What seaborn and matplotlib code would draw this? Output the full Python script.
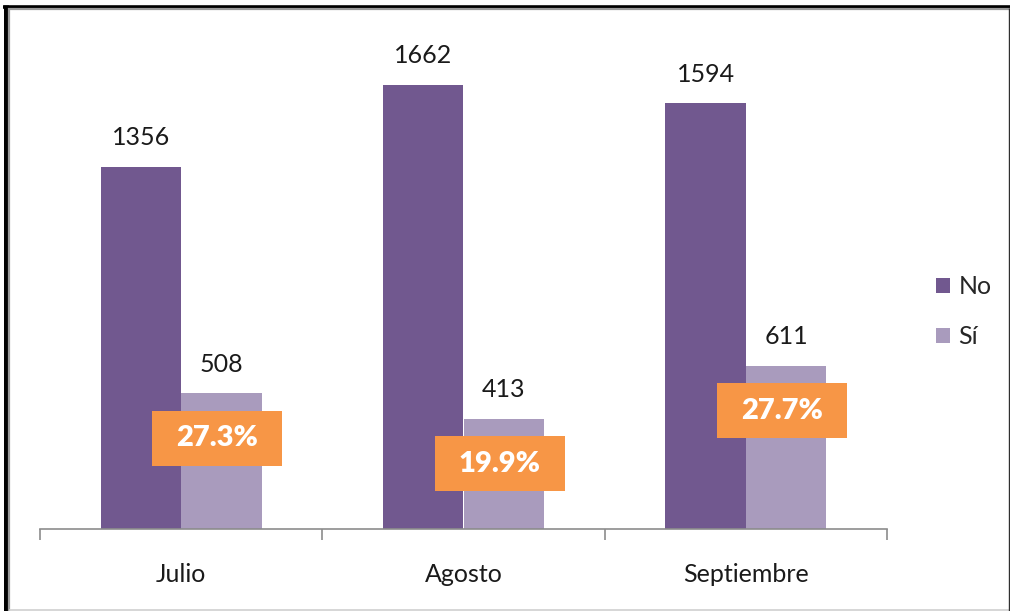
import matplotlib
matplotlib.use("Agg")
import matplotlib.pyplot as plt
import seaborn as sns
import pandas as pd
from matplotlib.patches import Rectangle
from matplotlib.lines import Line2D

meses = ["Julio", "Agosto", "Septiembre"]
respuestas = ["No", "Sí"]
valores_no = [1356, 1662, 1594]
valores_si = [508, 413, 611]
colores = ["#71588F", "#A99BBD"]
naranja = "#F79646"

df = pd.DataFrame({
    "mes": meses * 2,
    "resp": ["No"] * 3 + ["Sí"] * 3,
    "valor": valores_no + valores_si,
})

sns.set_style("white")
plt.rcParams["font.family"] = ["Lato", "DejaVu Sans"]

W, H = 1010, 611
fig = plt.figure(figsize=(W / 100, H / 100), dpi=100)
ax = fig.add_axes([40 / W, 1 - 529 / H, 847 / W, 509 / H])

sns.barplot(data=df, x="mes", y="valor", hue="resp", palette=colores,
            width=0.57, saturation=1, ax=ax, legend=False, errorbar=None,
            linewidth=0, edgecolor="none")

ax.set_xlim(-0.5, 2.5)
ymax = 1906
ax.set_ylim(0, ymax)
ax.set_xlabel("")
ax.set_ylabel("")
for s in ["top", "right", "left"]:
    ax.spines[s].set_visible(False)
ax.spines["bottom"].set_color("#8C8C8C")
ax.spines["bottom"].set_linewidth(1.2)
ax.set_yticks([])
ax.set_xticks([-0.5, 0.5, 1.5, 2.5])
ax.set_xticklabels([])
ax.tick_params(axis="x", which="major", bottom=True, length=8, width=1.2,
               color="#8C8C8C", direction="out")
ax.set_xticks([0, 1, 2], minor=True)
ax.set_xticklabels(meses, minor=True)
ax.tick_params(axis="x", which="minor", bottom=True, length=0, pad=24.5,
               labelsize=18, labelcolor="#1a1a1a")

# value labels
for cont in ax.containers:
    for bar in cont:
        h = bar.get_height()
        ax.annotate(f"{int(round(h))}", (bar.get_x() + bar.get_width() / 2, h),
                    xytext=(0, 21), textcoords="offset points", ha="center", va="center",
                    fontsize=18, color="#1a1a1a")

# percentage boxes
px_per_unit = (529 - 20) / ymax
box_w = 130 / 282
box_h = 55 / px_per_unit
for i, (n, s) in enumerate(zip(valores_no, valores_si)):
    pct = s / (n + s) * 100
    cx = i + 0.285 / 2 - 4 / 282
    cy = s - 45 / px_per_unit
    ax.add_patch(Rectangle((cx - box_w / 2, cy - box_h / 2), box_w, box_h,
                           facecolor=naranja, edgecolor="none", zorder=5, clip_on=False))
    ax.text(cx, cy, f"{pct:.1f}%", ha="center", va="center", color="white",
            fontsize=21, fontweight="heavy", zorder=6)

# legend
handles = [Rectangle((0, 0), 1, 1, facecolor=c, edgecolor="none") for c in colores]
fig.legend(handles, respuestas, loc="upper left", bbox_to_anchor=(926 / W, 1 - 265 / H),
           frameon=False, fontsize=18, handlelength=0.55, handleheight=0.55,
           handletextpad=0.35, labelspacing=1.1, borderaxespad=0)

# figure frame
def fline(x0, y0, x1, y1, c, lw):
    fig.add_artist(Line2D([x0 / W, x1 / W], [1 - y0 / H, 1 - y1 / H], color=c, lw=lw,
                          transform=fig.transFigure, solid_capstyle="butt"))

fline(3, 6.5, W, 6.5, "black", 2.6)
fline(5.5, 5, 5.5, H, "black", 3.6)
fline(8, 9, W, 9, "#9a9a9a", 1.6)
fline(9, 8, 9, H, "#9a9a9a", 1.6)
fline(9, 609.5, W, 609.5, "#cfcfcf", 1.2)
fline(1008.5, 8, 1008.5, H, "#303030", 1.0)

fig.savefig("out.png", dpi=100)
